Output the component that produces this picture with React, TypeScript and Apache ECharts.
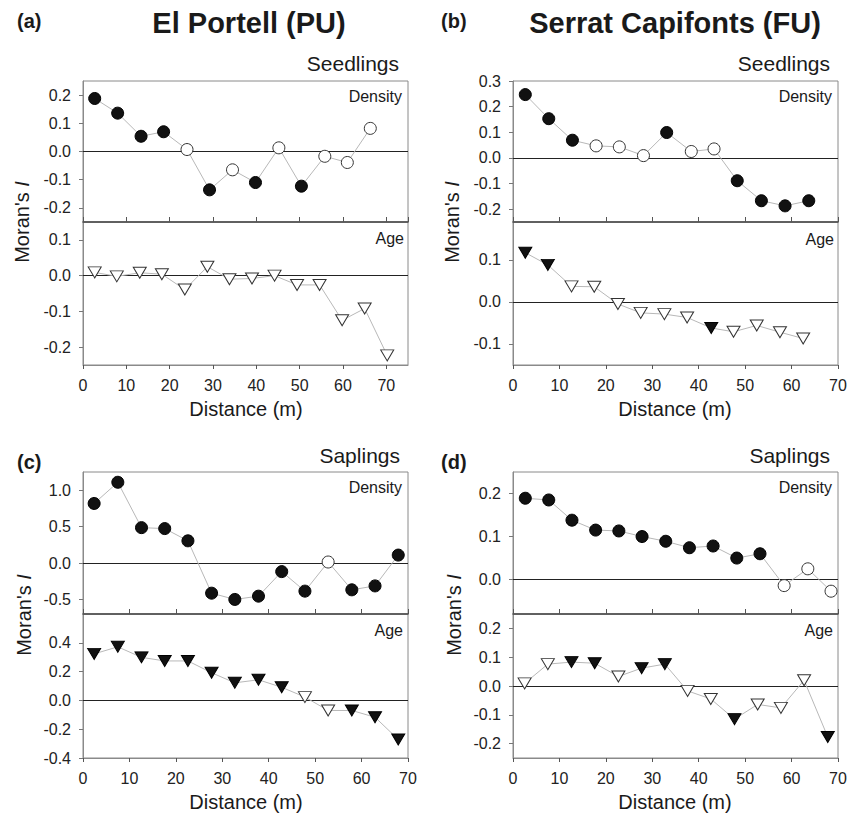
import React, { useEffect, useRef } from "react";
import * as echarts from "echarts";

// ---------- Data ----------
// (a) El Portell – Seedlings
const distA_dens = [2.7, 8.0, 13.4, 18.6, 24.0, 29.2, 34.5, 39.8, 45.2, 50.4, 55.8, 61.0, 66.3];
const moranA_dens = [0.188, 0.136, 0.054, 0.07, 0.007, -0.136, -0.065, -0.11, 0.013, -0.123, -0.017, -0.039, 0.082];
const sigA_dens = [1, 1, 1, 1, 0, 1, 0, 1, 0, 1, 0, 0, 0];
const distA_age = [2.7, 7.8, 13.1, 18.2, 23.5, 28.7, 33.8, 39.0, 44.2, 49.4, 54.6, 59.8, 65.0, 70.2];
const moranA_age = [0.009, -0.002, 0.008, 0.004, -0.039, 0.025, -0.01, -0.008, 0.0, -0.026, -0.026, -0.125, -0.092, -0.223];
const sigA_age = [0, 0, 0, 0, 0, 0, 0, 0, 0, 0, 0, 0, 0, 0];

// (b) Serrat Capifonts – Seedlings
const distB_dens = [2.65, 7.7, 12.8, 17.9, 22.9, 28.1, 33.1, 38.4, 43.3, 48.3, 53.5, 58.6, 63.7];
const moranB_dens = [0.247, 0.153, 0.069, 0.047, 0.043, 0.009, 0.099, 0.025, 0.035, -0.089, -0.167, -0.187, -0.167];
const sigB_dens = [1, 1, 1, 0, 0, 0, 1, 0, 0, 1, 1, 1, 1];
const distB_age = [2.65, 7.5, 12.6, 17.5, 22.6, 27.5, 32.6, 37.5, 42.7, 47.5, 52.5, 57.5, 62.5];
const moranB_age = [0.117, 0.088, 0.037, 0.036, -0.005, -0.026, -0.029, -0.037, -0.062, -0.071, -0.056, -0.072, -0.087];
const sigB_age = [1, 1, 0, 0, 0, 0, 0, 0, 1, 0, 0, 0, 0];

// (c) El Portell – Saplings
const distC_dens = [2.4, 7.5, 12.6, 17.6, 22.6, 27.7, 32.7, 37.8, 42.8, 47.8, 52.8, 57.9, 62.9, 67.9];
const moranC_dens = [0.818, 1.109, 0.486, 0.473, 0.305, -0.414, -0.5, -0.455, -0.118, -0.386, 0.014, -0.368, -0.314, 0.109];
const sigC_dens = [1, 1, 1, 1, 1, 1, 1, 1, 1, 1, 0, 1, 1, 1];
const distC_age = [2.4, 7.5, 12.6, 17.6, 22.6, 27.7, 32.7, 37.8, 42.8, 47.8, 52.8, 57.9, 62.9, 67.9];
const moranC_age = [0.323, 0.372, 0.299, 0.274, 0.274, 0.192, 0.122, 0.143, 0.091, 0.023, -0.07, -0.07, -0.117, -0.271];
const sigC_age = [1, 1, 1, 1, 1, 1, 1, 1, 1, 0, 0, 1, 1, 1];

// (d) Serrat Capifonts – Saplings
const distD_dens = [2.65, 7.7, 12.7, 17.8, 22.8, 27.8, 32.9, 38.0, 43.1, 48.2, 53.2, 58.4, 63.5, 68.5];
const moranD_dens = [0.189, 0.185, 0.138, 0.115, 0.113, 0.1, 0.089, 0.074, 0.078, 0.05, 0.06, -0.014, 0.025, -0.027];
const sigD_dens = [1, 1, 1, 1, 1, 1, 1, 1, 1, 1, 1, 0, 0, 0];
const distD_age = [2.5, 7.5, 12.6, 17.6, 22.7, 27.7, 32.7, 37.6, 42.6, 47.7, 52.7, 57.7, 62.7, 67.8];
const moranD_age = [0.009, 0.076, 0.083, 0.079, 0.033, 0.062, 0.076, -0.017, -0.045, -0.115, -0.064, -0.076, 0.02, -0.177];
const sigD_age = [0, 0, 1, 1, 0, 1, 1, 0, 0, 1, 0, 0, 0, 1];

const xTickInterval = 10;

const FONT = "'Liberation Sans', Arial, Helvetica, sans-serif";

type Range = { min: number; max: number; split: number; hideMin: boolean; hideMax: boolean };
type Panel = {
  left: number;
  top: number;
  mid: number;
  bottom: number;
  xMax: number;
  dens: Range;
  age: Range;
  densData: [number[], number[], number[]];
  ageData: [number[], number[], number[]];
};

const W = 325;
const panels: Panel[] = [
  {
    left: 83, top: 81, mid: 222, bottom: 365, xMax: 75,
    dens: { min: -0.25, max: 0.25, split: 5, hideMin: true, hideMax: true },
    age: { min: -0.25, max: 0.15, split: 4, hideMin: true, hideMax: true },
    densData: [distA_dens, moranA_dens, sigA_dens],
    ageData: [distA_age, moranA_age, sigA_age],
  },
  {
    left: 513, top: 81, mid: 222, bottom: 365, xMax: 70,
    dens: { min: -0.25, max: 0.3, split: 5, hideMin: true, hideMax: false },
    age: { min: -0.15, max: 0.19, split: 3, hideMin: true, hideMax: true },
    densData: [distB_dens, moranB_dens, sigB_dens],
    ageData: [distB_age, moranB_age, sigB_age],
  },
  {
    left: 83, top: 472, mid: 614, bottom: 758, xMax: 70,
    dens: { min: -0.7, max: 1.25, split: 4, hideMin: true, hideMax: true },
    age: { min: -0.4, max: 0.6, split: 5, hideMin: false, hideMax: true },
    densData: [distC_dens, moranC_dens, sigC_dens],
    ageData: [distC_age, moranC_age, sigC_age],
  },
  {
    left: 513, top: 472, mid: 614, bottom: 758, xMax: 70,
    dens: { min: -0.08, max: 0.25, split: 3, hideMin: true, hideMax: true },
    age: { min: -0.25, max: 0.25, split: 5, hideMin: true, hideMax: true },
    densData: [distD_dens, moranD_dens, sigD_dens],
    ageData: [distD_age, moranD_age, sigD_age],
  },
];

const filled = { color: "#111", borderColor: "#000", borderWidth: 1 };
const open = { color: "#fff", borderColor: "#333", borderWidth: 1 };

function buildOption() {
  const grid: any[] = [];
  const xAxis: any[] = [];
  const yAxis: any[] = [];
  const series: any[] = [];

  panels.forEach((p) => {
    (["dens", "age"] as const).forEach((kind) => {
      const idx = grid.length;
      const isDens = kind === "dens";
      const top = isDens ? p.top : p.mid;
      const height = isDens ? p.mid - p.top : p.bottom - p.mid;
      grid.push({
        left: p.left,
        top,
        width: W,
        height,
        show: true,
        borderColor: "#8a8a8a",
        borderWidth: 1,
        backgroundColor: "transparent",
        containLabel: false,
      });
      xAxis.push({
        type: "value",
        gridIndex: idx,
        min: 0,
        max: p.xMax,
        interval: xTickInterval,
        splitLine: { show: false },
        axisLine: {
          show: true,
          onZero: false,
          lineStyle: isDens ? { color: "#4a4a4a", width: 1.5 } : { color: "#8a8a8a", width: 1 },
        },
        axisTick: {
          show: true,
          inside: isDens,
          length: isDens ? 5 : 4,
          lineStyle: { color: "#555" },
        },
        axisLabel: isDens
          ? { show: false }
          : {
              show: true,
              fontSize: 16,
              fontFamily: FONT,
              color: "#222",
              margin: 12,
              showMaxLabel: p.xMax % xTickInterval === 0,
            },
      });
      const r = isDens ? p.dens : p.age;
      yAxis.push({
        type: "value",
        gridIndex: idx,
        min: r.min,
        max: r.max,
        splitNumber: r.split,
        splitLine: { show: false },
        axisLine: { show: true, onZero: false, lineStyle: { color: "#8a8a8a" } },
        axisTick: { show: true, inside: false, length: 4, lineStyle: { color: "#777" } },
        axisLabel: {
          fontSize: 16,
          fontFamily: FONT,
          color: "#222",
          margin: 12,
          showMinLabel: !r.hideMin,
          showMaxLabel: !r.hideMax,
          formatter: (v: number) => v.toFixed(1),
        },
      });
      const [xs, ys, sig] = isDens ? p.densData : p.ageData;
      series.push({
        type: "line",
        xAxisIndex: idx,
        yAxisIndex: idx,
        symbol: isDens ? "circle" : "triangle",
        symbolSize: isDens ? 12 : [13, 11],
        symbolRotate: isDens ? 0 : 180,
        showAllSymbol: true,
        z: 3,
        lineStyle: { color: "#b8b8b8", width: 1 },
        data: xs.map((x, i) => ({
          value: [x, ys[i]],
          itemStyle: sig[i] ? filled : open,
        })),
        markLine: {
          silent: true,
          symbol: "none",
          z: 1,
          label: { show: false },
          lineStyle: { color: "#222", width: 1, type: "solid" },
          emphasis: { disabled: true },
          data: [{ yAxis: 0 }],
        },
      });
    });
  });

  const txt = (
    text: string,
    x: number,
    y: number,
    fontSize: number,
    align: string,
    fontWeight: string = "normal"
  ) => ({
    type: "text",
    x,
    y,
    style: {
      text,
      fontSize,
      fontFamily: FONT,
      fontWeight,
      fill: "#1a1a1a",
      align,
      verticalAlign: "middle",
    },
  });

  const moran = (x: number, y: number) => ({
    type: "text",
    x,
    y,
    rotation: Math.PI / 2,
    style: {
      text: "{a|Moran's }{b|I}",
      align: "center",
      verticalAlign: "middle",
      rich: {
        a: { fontSize: 20, fontFamily: FONT, fill: "#1a1a1a" },
        b: { fontSize: 20, fontFamily: FONT, fill: "#1a1a1a", fontStyle: "italic" },
      },
    },
  });

  const graphic: any[] = [
    txt("(a)", 17, 21, 20, "left", "bold"),
    txt("El Portell (PU)", 249, 23, 29, "center", "bold"),
    txt("(b)", 441, 21, 20, "left", "bold"),
    txt("Serrat Capifonts (FU)", 675, 23, 29, "center", "bold"),
    txt("(c)", 17, 462, 20, "left", "bold"),
    txt("(d)", 441, 462, 20, "left", "bold"),
    txt("Seedlings", 399, 63, 21, "right"),
    txt("Seedlings", 830, 63, 21, "right"),
    txt("Saplings", 400, 455, 21, "right"),
    txt("Saplings", 830, 455, 21, "right"),
    txt("Density", 402, 96, 16, "right"),
    txt("Density", 832, 96, 16, "right"),
    txt("Density", 402, 487, 16, "right"),
    txt("Density", 832, 487, 16, "right"),
    txt("Age", 404, 238, 16, "right"),
    txt("Age", 834, 239, 16, "right"),
    txt("Age", 403, 630, 16, "right"),
    txt("Age", 833, 630, 16, "right"),
    txt("Distance (m)", 246, 409, 20, "center"),
    txt("Distance (m)", 675, 409, 20, "center"),
    txt("Distance (m)", 246, 802, 20, "center"),
    txt("Distance (m)", 675, 802, 20, "center"),
    moran(22, 222),
    moran(452, 222),
    moran(24, 615),
    moran(454, 615),
  ];

  return {
    animation: false,
    backgroundColor: "#ffffff",
    grid,
    xAxis,
    yAxis,
    series,
    graphic,
  };
}

export default function App() {
  const ref = useRef<HTMLDivElement>(null);
  useEffect(() => {
    document.body.style.margin = "0";
    if (!ref.current) return;
    const chart = echarts.init(ref.current, undefined, { renderer: "svg" });
    chart.setOption(buildOption() as any);
    return () => {
      chart.dispose();
    };
  }, []);
  return <div ref={ref} style={{ width: 856, height: 815 }} />;
}
